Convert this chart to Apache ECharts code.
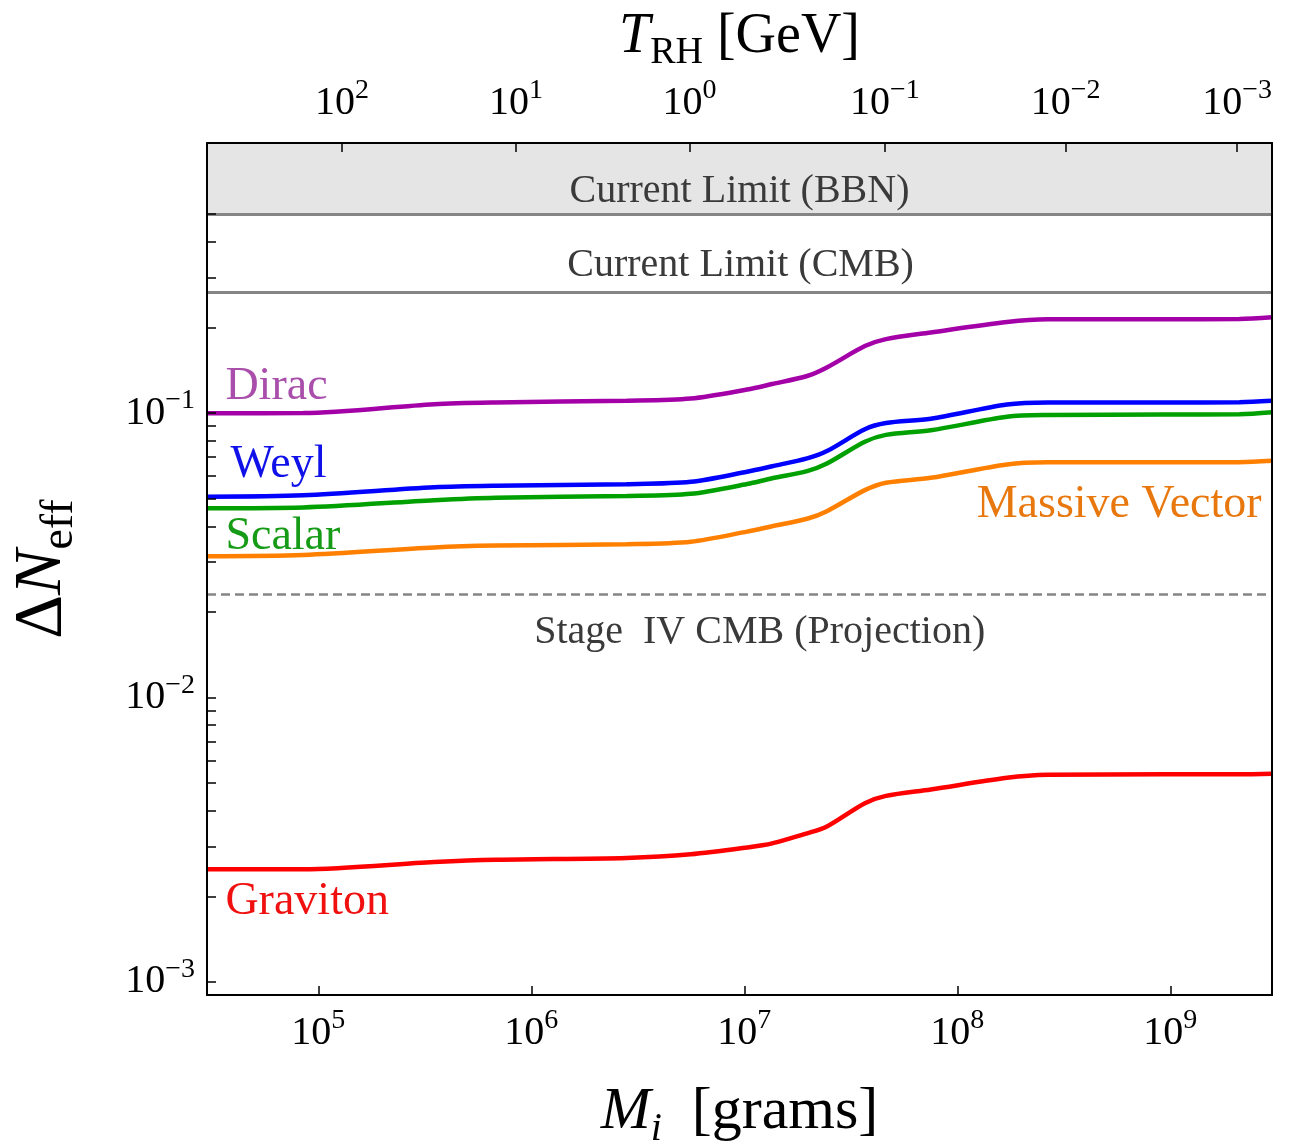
<!DOCTYPE html>
<html><head><meta charset="utf-8">
<script src="https://cdn.jsdelivr.net/npm/echarts@6/dist/echarts.min.js"></script>
<style>html,body{margin:0;padding:0;background:#fff}#c{width:1302px;height:1144px}</style>
</head><body><div id="c"></div>
<script>
// ---- data ----
const massGrams = [3.0e4, 8.5e4, 3.5e5, 6.8e5, 2.8e6, 5.6e6, 1.03e7, 1.35e7, 1.97e7, 2.44e7, 3.68e7, 4.62e7, 7.5e7, 1.71e8, 2.66e8, 9.4e8, 2.11e9, 3.0e9];
const dirac    = [0.0998, 0.1000, 0.1075, 0.1090, 0.1105, 0.1125, 0.1210, 0.1265, 0.1350, 0.1447, 0.1720, 0.1820, 0.1920, 0.2090, 0.2135, 0.2135, 0.2140, 0.2170];
const weyl     = [0.0508, 0.0514, 0.0548, 0.0555, 0.0562, 0.0573, 0.0622, 0.0650, 0.0693, 0.0735, 0.0877, 0.0922, 0.0955, 0.1072, 0.1090, 0.1090, 0.1092, 0.1104];
const scalar   = [0.0463, 0.0466, 0.0494, 0.0504, 0.0511, 0.0520, 0.0563, 0.0590, 0.0625, 0.0665, 0.0793, 0.0838, 0.0870, 0.0970, 0.0984, 0.0988, 0.0990, 0.1006];
const vector   = [0.0314, 0.0317, 0.0337, 0.0342, 0.0346, 0.0353, 0.0383, 0.0400, 0.0425, 0.0452, 0.0536, 0.0569, 0.0592, 0.0660, 0.0671, 0.0671, 0.0672, 0.0680];
const graviton = [0.00249, 0.00249, 0.00264, 0.00269, 0.00273, 0.00281, 0.00297, 0.00307, 0.00333, 0.00352, 0.00425, 0.00451, 0.00475, 0.00522, 0.00535, 0.00537, 0.00537, 0.00540];

const massTicks = [1e5, 1e6, 1e7, 1e8, 1e9];
const tempTickMass = [1.29e5, 8.47e5, 5.52e6, 4.57e7, 3.22e8, 2.06e9];
const tempTickExp = ['2', '1', '0', '−1', '−2', '−3'];
const yLabelTicks = [1e-3, 1e-2, 1e-1];
const yTickValues = [1e-3, 2e-3, 3e-3, 4e-3, 5e-3, 6e-3, 7e-3, 8e-3, 9e-3, 1e-2, 2e-2, 3e-2, 4e-2, 5e-2, 6e-2, 7e-2, 8e-2, 9e-2, 1e-1, 2e-1, 3e-1, 4e-1, 5e-1];
const xRange = [3.0e4, 3.0e9];
const yRange = [9.0e-4, 0.89];
const bbnLimit = 0.5;
const cmbLimit = 0.266;
const stage4Limit = 0.023;

const seriesNames = ['Dirac', 'Weyl', 'Scalar', 'Massive Vector', 'Graviton'];
const seriesValues = [dirac, weyl, scalar, vector, graviton];
const seriesColors = ['#a400a8', '#0000ff', '#00a000', '#ff8000', '#ff0000'];
const labelColors = ['#a94fab', '#1010e8', '#169b16', '#e8780e', '#f01010'];
// label anchor in data coordinates [mass, value], and alignment
const labelAnchors = [[3.66e4, 0.1239, 'left'], [3.87e4, 0.0658, 'left'], [3.66e4, 0.0366, 'left'], [2.68e9, 0.0477, 'right'], [3.66e4, 0.00191, 'left']];
const limitTexts = ['Current Limit (BBN)', 'Current Limit (CMB)', 'Stage  IV CMB (Projection)'];
const limitAnchors = [[9.49e6, 0.599], [9.6e6, 0.331], [1.18e7, 0.01694]];

// ---- chart ----
const FONT = 'Liberation Serif';
const tickRich = {
  b: { fontSize: 40, fontFamily: FONT, color: '#000', lineHeight: 52 },
  s: { fontSize: 28, fontFamily: FONT, color: '#000', lineHeight: 30, verticalAlign: 'top' }
};
function near(a, b) { return Math.abs(Math.log10(a) - Math.log10(b)) < 1e-4; }

const chart = echarts.init(document.getElementById('c'), null, { renderer: 'canvas' });

const series = seriesNames.map((name, i) => ({
  name, type: 'line', xAxisIndex: 0, yAxisIndex: 0,
  data: massGrams.map((m, k) => [m, seriesValues[i][k]]),
  showSymbol: false, smooth: 0.3, z: 5,
  lineStyle: { width: 4.5, color: seriesColors[i] },
  itemStyle: { color: seriesColors[i] },
  markPoint: {
    silent: true, symbol: 'circle', symbolSize: 1, itemStyle: { color: 'rgba(0,0,0,0)' },
    data: [{
      coord: [labelAnchors[i][0], labelAnchors[i][1]],
      label: { show: true, formatter: name, position: 'inside', align: labelAnchors[i][2], verticalAlign: 'middle',
               color: labelColors[i], fontSize: 46, fontFamily: FONT }
    }]
  }
}));

// reference limits (shaded BBN region, limit lines and their captions)
series.push({
  name: 'limits', type: 'line', data: [], z: 1,
  markArea: { silent: true, itemStyle: { color: '#e5e5e5' }, data: [[{ yAxis: bbnLimit }, { yAxis: yRange[1] }]] },
  markLine: {
    silent: true, precision: 6, symbol: ['none', 'none'], label: { show: false },
    data: [
      { yAxis: bbnLimit, lineStyle: { color: '#858585', width: 3, type: 'solid' } },
      { yAxis: cmbLimit, lineStyle: { color: '#858585', width: 3, type: 'solid' } },
      { yAxis: stage4Limit, lineStyle: { color: '#858585', width: 2.5, type: [9, 5] } }
    ]
  },
  markPoint: {
    silent: true, symbol: 'circle', symbolSize: 1, itemStyle: { color: 'rgba(0,0,0,0)' },
    data: limitTexts.map((t, i) => ({
      coord: limitAnchors[i],
      label: { show: true, formatter: t, position: 'inside', align: 'center', verticalAlign: 'middle',
               color: '#3a3a3a', fontSize: 40, fontFamily: FONT }
    }))
  }
});

const nameRich = (big, small, subItalic) => ({
  it: { fontSize: big, fontStyle: 'italic', fontFamily: FONT, lineHeight: big + 14 },
  sub: { fontSize: small, fontStyle: subItalic ? 'italic' : 'normal', fontFamily: FONT, lineHeight: small, verticalAlign: 'bottom' },
  rm: { fontSize: big, fontFamily: FONT, lineHeight: big + 14 }
});

const option = {
  animation: false,
  backgroundColor: '#fff',
  grid: { left: 207, right: 30, top: 143, bottom: 149, containLabel: false, outerBoundsMode: 'none' },
  xAxis: [
    {
      type: 'log', logBase: 10, min: xRange[0], max: xRange[1], position: 'bottom', z: 10,
      name: '{it|M}{sub|i}{rm|  [grams]}', nameLocation: 'middle', nameGap: 80,
      nameTextStyle: { fontFamily: FONT, color: '#000', rich: nameRich(60, 40, true) },
      axisLine: { show: true, lineStyle: { color: '#000', width: 2 } },
      axisTick: { show: true, inside: true, length: 9, lineStyle: { color: '#000', width: 1.5 }, customValues: massTicks },
      axisLabel: { show: true, margin: 12, customValues: massTicks, rich: tickRich,
        formatter: v => '{b|10}{s|' + Math.round(Math.log10(v)) + '}' },
      splitLine: { show: false }, minorTick: { show: false }
    },
    {
      type: 'log', logBase: 10, min: xRange[0], max: xRange[1], position: 'top', z: 10,
      name: '{it|T}{sub|RH}{rm| [GeV]}', nameLocation: 'middle', nameGap: 70,
      nameTextStyle: { fontFamily: FONT, color: '#000', rich: nameRich(56, 38, false) },
      axisLine: { show: true, lineStyle: { color: '#000', width: 2 } },
      axisTick: { show: true, inside: true, length: 9, lineStyle: { color: '#000', width: 1.5 }, customValues: tempTickMass },
      axisLabel: { show: true, margin: 14, customValues: tempTickMass, rich: tickRich,
        formatter: v => { for (let i = 0; i < tempTickMass.length; i++) { if (near(v, tempTickMass[i])) return '{b|10}{s|' + tempTickExp[i] + '}'; } return ''; } },
      splitLine: { show: false }, minorTick: { show: false }
    }
  ],
  yAxis: [
    {
      type: 'log', logBase: 10, min: yRange[0], max: yRange[1], position: 'left', z: 10,
      name: '{rm|Δ}{it|N}{sub|eff}', nameLocation: 'middle', nameGap: 124, nameRotate: 90,
      nameTextStyle: { fontFamily: FONT, color: '#000', rich: nameRich(68, 46, false) },
      axisLine: { show: true, lineStyle: { color: '#000', width: 2 } },
      axisTick: { show: true, inside: true, length: 9, lineStyle: { color: '#000', width: 1.5 }, customValues: yTickValues },
      axisLabel: { show: true, margin: 12, customValues: yLabelTicks, rich: tickRich,
        formatter: v => '{b|10}{s|' + String(Math.round(Math.log10(v))).replace('-', '−') + '}' },
      splitLine: { show: false }, minorTick: { show: false }
    },
    {
      type: 'log', logBase: 10, min: yRange[0], max: yRange[1], position: 'right', z: 10,
      axisLine: { show: true, lineStyle: { color: '#000', width: 2 } },
      axisTick: { show: false }, axisLabel: { show: false }, splitLine: { show: false }
    }
  ],
  series
};
chart.setOption(option);
</script>
</body></html>
